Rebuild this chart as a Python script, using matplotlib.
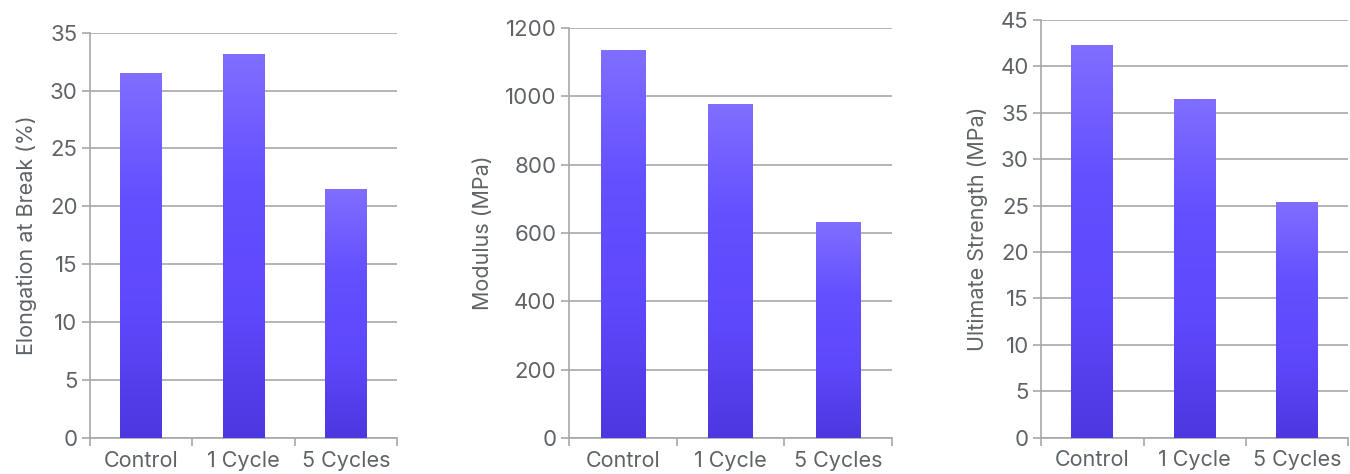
import numpy as np
import matplotlib
matplotlib.use("Agg")
import matplotlib.pyplot as plt
from matplotlib.colors import LinearSegmentedColormap

plt.rcParams["font.family"] = ["Inter", "DejaVu Sans"]

categories = ["Control", "1 Cycle", "5 Cycles"]
elongation = [31.4, 33.05, 21.4]
modulus = [1135, 977, 632]
strength = [42.3, 36.5, 25.4]

panels = [
    (elongation, "Elongation at Break (%)", 35, 5, [0.0667, 0.0753, 0.2274, 0.856]),
    (modulus, "Modulus (MPa)", 1200, 200, [0.4215, 0.0759, 0.2390, 0.865]),
    (strength, "Ultimate Strength (MPa)", 45, 5, [0.7713, 0.0766, 0.2274, 0.881]),
]

text_c = "#5f6368"
grid_c = "#a8a8ac"
grad = LinearSegmentedColormap.from_list("g", ["#4d37e0", "#5e48fb", "#6450ff", "#806eff"])

fig = plt.figure(figsize=(13.5, 4.74), dpi=100)
for vals, ylabel, ymax, step, rect in panels:
    ax = fig.add_axes(rect)
    x = np.arange(len(categories))
    bars = ax.bar(x, vals, width=0.41, color="none", zorder=3)
    for b in bars:
        x0, y0 = b.get_x(), b.get_y()
        ax.imshow(np.linspace(0, 1, 256).reshape(-1, 1), cmap=grad, origin="lower",
                  extent=[x0, x0 + b.get_width(), y0, y0 + b.get_height()],
                  aspect="auto", zorder=3, interpolation="bilinear")
    ax.set_xlim(-0.5, len(categories) - 0.5)
    ax.set_ylim(0, ymax)
    ax.set_yticks(np.arange(0, ymax + step / 2, step))
    ax.set_xticks(x)
    ax.set_xticklabels(categories)
    ax.set_xticks(np.arange(-0.5, len(categories)), minor=True)
    ax.tick_params(axis="x", which="major", length=0, pad=9, labelsize=15.5, labelcolor=text_c)
    ax.tick_params(axis="x", which="minor", length=6, width=1.2, color=grid_c)
    ax.tick_params(axis="y", length=6, width=1.2, color=grid_c, pad=3, labelsize=16, labelcolor=text_c)
    ax.yaxis.grid(True, color=grid_c, linewidth=1.2, zorder=0)
    ax.set_axisbelow(True)
    for s in ["top", "right"]:
        ax.spines[s].set_visible(False)
    for s in ["left", "bottom"]:
        ax.spines[s].set_color(grid_c)
        ax.spines[s].set_linewidth(1.2)
    ax.set_ylabel(ylabel, fontsize=15.5, color=text_c, labelpad=9)

fig.savefig("out.png", dpi=100)
